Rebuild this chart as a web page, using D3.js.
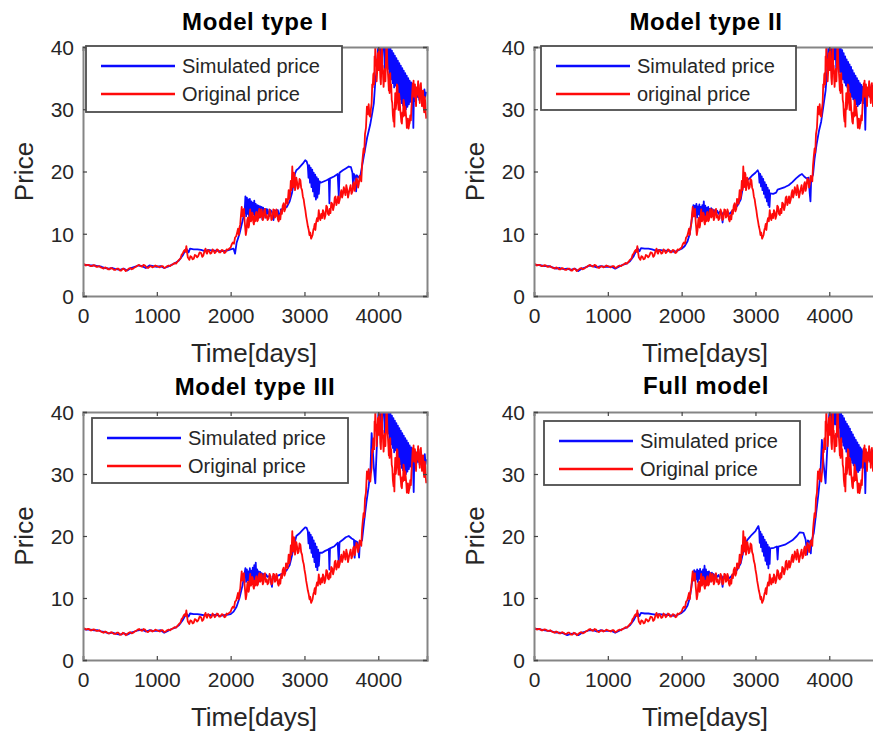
<!DOCTYPE html>
<html><head><meta charset="utf-8">
<script src="https://cdn.jsdelivr.net/npm/d3@7"></script>
<style>html,body{margin:0;padding:0;background:#fff;overflow:hidden}svg{display:block}</style>
</head><body>
<svg id="chart" width="873" height="737"></svg>
<script>
// ---------------- DATA ----------------
const panelTitles = ["Model type I", "Model type II", "Model type III", "Full model"];
const legendSim = ["Simulated price", "Simulated price", "Simulated price", "Simulated price"];
const legendOrig = ["Original price", "original price", "Original price", "Original price"];
const xTicks = [0, 1000, 2000, 3000, 4000];
const yTicks = [0, 10, 20, 30, 40];
const xDomain = [0, 4660];
const yDomain = [0, 40];
const xLabel = "Time[days]";
const yLabel = "Price";

// original price [day, price]
const originalPrice = [[0,5.0],[20,5.1],[40,4.9],[60,5.0],[80,5.0],[100,4.8],[120,4.8],[140,4.95],[160,4.9],[180,4.7],[200,4.7],[220,4.8],[240,4.6],[260,4.5],[280,4.4],[300,4.6],[320,4.5],[340,4.3],[360,4.3],[380,4.5],[400,4.4],[420,4.2],[440,4.2],[460,4.4],[480,4.4],[500,4.1],[520,4.1],[540,4.4],[560,4.3],[580,4.0],[600,4.2],[620,4.4],[640,4.5],[660,4.3],[680,4.4],[700,4.6],[720,4.7],[740,4.9],[760,5.0],[780,4.8],[800,4.7],[820,5.0],[840,4.9],[860,4.6],[880,4.5],[900,4.7],[920,4.8],[940,4.6],[960,4.7],[980,4.9],[1000,4.8],[1020,4.7],[1040,4.6],[1060,4.8],[1080,4.8],[1100,4.5],[1120,4.6],[1140,4.8],[1160,4.9],[1180,4.8],[1200,5.0],[1220,5.1],[1240,5.3],[1260,5.2],[1280,5.5],[1300,5.8],[1320,6.0],[1335,6.6],[1350,6.8],[1365,7.2],[1380,7.4],[1390,7.1],[1400,8.0],[1410,7.0],[1420,6.2],[1430,6.0],[1440,5.8],[1455,6.4],[1470,6.3],[1485,5.9],[1500,6.0],[1515,6.6],[1530,6.5],[1545,6.2],[1560,6.4],[1580,7.0],[1600,6.9],[1615,6.3],[1630,6.5],[1645,7.2],[1660,7.6],[1670,7.0],[1680,6.8],[1695,7.4],[1710,7.2],[1725,6.8],[1740,6.9],[1755,7.5],[1770,7.3],[1785,6.9],[1800,7.1],[1815,7.5],[1830,7.4],[1845,7.0],[1860,7.0],[1880,7.4],[1900,7.3],[1915,6.9],[1930,7.0],[1945,7.5],[1960,7.4],[1980,7.6],[2000,7.8],[2015,8.3],[2030,8.6],[2045,8.4],[2060,9.4],[2075,9.6],[2090,10.3],[2100,10.8],[2110,9.8],[2120,11.0],[2130,11.5],[2140,13.0],[2150,14.3],[2160,12.8],[2170,13.8],[2180,14.0],[2190,12.0],[2197,11.0],[2205,9.8],[2215,10.5],[2225,12.2],[2235,12.6],[2243,11.0],[2250,11.4],[2258,13.0],[2265,13.9],[2275,12.0],[2285,12.3],[2292,13.4],[2300,13.2],[2308,11.8],[2315,11.5],[2325,12.8],[2333,12.0],[2342,13.3],[2350,13.5],[2360,12.0],[2370,12.2],[2380,13.6],[2390,14.0],[2400,12.6],[2410,12.8],[2418,13.9],[2424,13.6],[2435,12.2],[2445,12.5],[2455,13.8],[2465,14.0],[2477,12.6],[2490,13.0],[2500,12.2],[2515,12.5],[2527,13.9],[2540,13.5],[2552,12.2],[2565,12.4],[2578,13.9],[2590,13.8],[2600,12.6],[2610,12.8],[2620,13.9],[2628,13.6],[2640,12.3],[2650,12.0],[2662,13.0],[2673,12.3],[2685,13.8],[2695,13.2],[2705,14.5],[2718,14.9],[2728,13.6],[2740,14.0],[2750,15.6],[2760,15.5],[2772,14.8],[2786,17.0],[2795,15.6],[2805,16.2],[2815,18.5],[2825,17.0],[2835,20.8],[2843,18.6],[2850,17.5],[2858,19.8],[2865,19.5],[2872,17.0],[2880,17.8],[2890,19.0],[2900,18.3],[2910,17.2],[2922,17.5],[2933,18.8],[2945,18.6],[2955,17.4],[2967,17.0],[2978,16.0],[2990,15.5],[3000,14.6],[3012,13.8],[3023,12.8],[3035,12.0],[3046,11.2],[3058,10.6],[3068,9.8],[3078,10.2],[3090,9.2],[3100,9.5],[3110,9.8],[3120,10.6],[3130,11.0],[3140,11.6],[3148,10.6],[3158,11.8],[3170,12.5],[3182,12.0],[3194,13.8],[3204,12.6],[3215,12.2],[3227,13.2],[3239,12.5],[3250,13.8],[3260,13.5],[3272,12.4],[3285,13.0],[3296,14.5],[3307,14.3],[3318,13.2],[3330,13.0],[3341,14.0],[3352,13.3],[3363,15.0],[3375,14.8],[3388,13.8],[3400,14.5],[3410,15.8],[3420,16.0],[3432,14.6],[3445,15.2],[3455,16.0],[3465,14.9],[3478,15.5],[3490,16.5],[3500,17.0],[3510,15.8],[3522,16.4],[3533,17.5],[3545,16.8],[3555,16.2],[3567,17.8],[3580,17.0],[3590,15.8],[3601,16.5],[3613,17.2],[3625,17.8],[3637,16.4],[3650,16.8],[3660,18.0],[3669,18.3],[3680,16.9],[3690,17.5],[3703,18.9],[3715,18.6],[3727,17.4],[3737,18.0],[3748,19.3],[3760,19.0],[3770,18.4],[3780,21.0],[3790,22.4],[3801,23.7],[3810,23.0],[3820,26.0],[3833,27.0],[3846,30.4],[3858,29.2],[3870,30.8],[3880,29.0],[3892,28.8],[3900,30.0],[3910,31.0],[3918,34.0],[3925,33.5],[3932,35.5],[3937,35.8],[3945,34.0],[3950,38.5],[3955,37.0],[3960,40.5],[3966,37.5],[3972,38.0],[3978,34.5],[3985,36.0],[3995,39.0],[4004,36.3],[4012,41.0],[4020,38.0],[4028,35.0],[4035,34.0],[4042,37.0],[4049,40.5],[4055,36.0],[4060,37.0],[4066,35.0],[4072,33.6],[4080,35.5],[4090,36.5],[4097,34.5],[4105,38.0],[4111,41.0],[4117,39.7],[4124,37.0],[4130,36.0],[4137,34.5],[4143,33.0],[4148,35.5],[4153,32.6],[4158,34.0],[4162,35.8],[4168,33.0],[4175,34.0],[4182,31.5],[4190,31.0],[4198,29.0],[4207,28.0],[4212,30.0],[4218,27.2],[4224,30.5],[4230,32.6],[4237,30.0],[4245,31.0],[4252,34.0],[4260,33.8],[4267,31.5],[4275,29.9],[4282,32.5],[4290,31.5],[4297,30.0],[4305,29.0],[4312,28.0],[4320,27.7],[4327,29.5],[4335,28.8],[4342,31.5],[4350,31.0],[4357,29.0],[4365,30.4],[4372,29.5],[4380,28.5],[4387,27.0],[4395,27.5],[4402,28.5],[4410,26.9],[4418,27.5],[4425,27.8],[4433,29.0],[4442,28.2],[4448,30.0],[4455,31.5],[4462,33.0],[4468,34.2],[4473,33.0],[4478,34.6],[4484,32.0],[4490,33.0],[4497,34.0],[4505,31.8],[4512,30.5],[4518,33.5],[4524,32.3],[4532,33.0],[4540,34.5],[4547,32.0],[4555,33.0],[4562,31.0],[4569,33.9],[4577,34.2],[4585,32.5],[4592,30.5],[4600,31.0],[4607,33.0],[4614,30.4],[4622,29.5],[4630,32.0],[4637,31.0],[4643,29.5],[4650,28.5]];

// simulated price, model type I
const simModelI = [[0,5.0],[50,5.0],[100,4.9],[150,4.9],[200,4.8],[250,4.7],[300,4.5],[350,4.4],[400,4.5],[450,4.3],[500,4.2],[550,4.4],[600,4.1],[650,4.5],[700,4.7],[750,4.9],[800,4.8],[850,4.5],[900,4.9],[950,4.8],[1000,4.7],[1050,4.8],[1100,4.5],[1150,4.7],[1200,5.0],[1250,5.3],[1300,5.7],[1350,6.5],[1400,7.6],[1430,7.0],[1450,7.6],[1500,7.5],[1550,7.5],[1600,7.4],[1650,7.2],[1700,7.4],[1750,7.3],[1800,7.3],[1850,7.2],[1900,7.2],[1950,7.3],[2000,7.5],[2040,7.6],[2060,6.8],[2080,8.5],[2120,10.0],[2160,12.0],[2190,13.5],[2200,16.0],[2210,12.8],[2220,15.8],[2230,13.2],[2240,15.5],[2250,12.6],[2260,15.6],[2270,13.0],[2280,15.2],[2290,12.5],[2300,15.0],[2310,13.1],[2320,15.3],[2330,12.7],[2340,14.8],[2350,12.4],[2360,14.6],[2370,13.0],[2380,14.5],[2390,12.6],[2400,14.4],[2410,12.9],[2420,14.3],[2430,12.3],[2440,14.2],[2450,13.0],[2460,14.0],[2470,12.6],[2480,14.0],[2490,13.2],[2500,13.9],[2520,12.8],[2540,13.8],[2560,13.5],[2580,12.2],[2600,13.7],[2640,13.8],[2660,12.3],[2680,13.9],[2720,14.0],[2760,14.3],[2800,15.2],[2830,16.5],[2850,17.8],[2870,19.6],[2890,20.2],[2920,20.5],[2950,20.9],[2980,21.3],[3010,21.8],[3030,21.6],[3045,21.0],[3055,19.0],[3065,21.0],[3075,18.2],[3085,20.6],[3095,17.5],[3105,20.3],[3115,16.8],[3125,19.8],[3135,16.0],[3145,19.5],[3155,15.5],[3165,19.1],[3175,15.8],[3185,18.8],[3195,16.4],[3205,18.4],[3220,18.2],[3260,18.4],[3300,18.6],[3330,18.8],[3338,14.9],[3346,18.9],[3400,19.2],[3450,19.6],[3465,16.0],[3475,19.8],[3520,20.2],[3560,20.5],[3600,20.8],[3630,20.7],[3650,19.8],[3660,17.5],[3670,19.6],[3690,19.2],[3700,16.8],[3710,19.4],[3740,19.0],[3760,19.5],[3790,21.5],[3820,23.5],[3850,25.5],[3890,27.5],[3920,29.5],[3940,31.0],[3960,34.5],[3980,36.5],[4000,40.5],[4020,38.0],[4030,41.0],[4045,36.0],[4060,41.0],[4080,39.5],[4090,35.5],[4100,41.0],[4115,37.0],[4125,40.5],[4135,36.5],[4145,40.2],[4155,35.2],[4165,39.8],[4175,34.8],[4185,39.4],[4195,34.2],[4205,39.0],[4215,33.5],[4225,38.6],[4235,33.8],[4245,38.2],[4255,33.0],[4265,37.8],[4275,32.2],[4285,37.4],[4295,31.6],[4305,37.0],[4315,31.0],[4325,36.6],[4335,30.6],[4345,36.2],[4355,30.2],[4365,35.8],[4375,30.0],[4385,35.4],[4395,30.4],[4405,35.0],[4415,30.8],[4425,34.6],[4435,31.2],[4445,34.3],[4455,31.5],[4465,34.0],[4475,27.0],[4485,33.7],[4495,31.3],[4505,33.5],[4515,31.8],[4525,33.3],[4535,32.0],[4545,33.1],[4555,31.5],[4565,33.0],[4575,32.2],[4585,33.0],[4595,31.8],[4605,32.8],[4615,32.2],[4625,33.2],[4635,32.0],[4650,32.8]];

// simulated price, model type II
const simModelII = [[0,5.0],[50,5.0],[100,4.9],[150,4.8],[200,4.8],[250,4.6],[300,4.4],[350,4.5],[400,4.3],[450,4.4],[500,4.2],[550,4.4],[600,4.0],[650,4.4],[700,4.6],[750,4.9],[800,4.8],[850,4.6],[900,4.8],[950,4.7],[1000,4.7],[1050,4.7],[1100,4.4],[1150,4.7],[1200,5.0],[1250,5.2],[1300,5.6],[1350,6.4],[1400,7.7],[1430,7.2],[1450,7.7],[1500,7.6],[1550,7.6],[1600,7.5],[1650,7.3],[1700,7.4],[1750,7.3],[1800,7.3],[1850,7.2],[1900,7.1],[1950,7.3],[2000,7.6],[2040,8.0],[2080,8.8],[2110,10.0],[2140,12.5],[2160,14.6],[2170,12.8],[2180,14.5],[2190,13.0],[2200,14.8],[2210,12.6],[2220,14.4],[2230,13.1],[2240,14.7],[2250,12.8],[2260,14.3],[2270,13.0],[2280,14.6],[2290,12.7],[2300,15.2],[2310,13.0],[2320,14.5],[2330,12.8],[2340,14.2],[2350,13.1],[2360,14.3],[2370,12.6],[2380,14.0],[2390,13.0],[2400,14.1],[2410,12.9],[2420,13.9],[2430,13.2],[2440,13.8],[2460,13.4],[2480,13.7],[2500,13.2],[2520,13.6],[2540,13.3],[2555,11.8],[2565,13.4],[2590,13.2],[2620,13.5],[2650,13.2],[2680,13.6],[2720,14.0],[2760,14.6],[2800,15.5],[2830,17.5],[2850,18.3],[2880,18.5],[2920,18.9],[2960,19.4],[3000,19.8],[3030,20.2],[3045,19.8],[3055,18.2],[3065,19.6],[3075,17.6],[3085,19.2],[3095,17.0],[3105,18.8],[3115,16.4],[3125,18.3],[3135,15.8],[3145,17.9],[3155,15.2],[3165,17.4],[3175,14.6],[3185,17.0],[3190,14.3],[3200,16.5],[3240,16.4],[3280,16.6],[3300,17.1],[3350,17.3],[3400,17.5],[3450,17.8],[3500,18.3],[3550,18.9],[3600,19.4],[3630,19.6],[3660,19.2],[3690,18.9],[3720,19.0],[3735,16.5],[3745,15.2],[3755,18.8],[3780,19.5],[3800,22.0],[3830,24.5],[3860,26.5],[3890,28.0],[3920,30.5],[3950,33.0],[3970,36.0],[3990,40.5],[4010,37.5],[4025,41.0],[4040,36.5],[4055,41.0],[4070,38.0],[4085,41.0],[4095,36.0],[4110,40.5],[4125,37.5],[4135,40.5],[4145,36.0],[4155,40.0],[4165,35.2],[4175,39.5],[4185,34.8],[4195,39.0],[4205,34.3],[4215,38.5],[4225,33.8],[4235,38.0],[4245,33.5],[4255,37.6],[4265,33.0],[4275,37.2],[4285,32.5],[4295,36.8],[4305,32.0],[4315,36.3],[4325,31.6],[4335,35.8],[4345,31.2],[4355,35.4],[4365,30.8],[4375,35.0],[4385,30.5],[4395,34.6],[4405,30.8],[4415,34.2],[4425,31.0],[4435,33.9],[4445,31.4],[4455,33.6],[4465,31.0],[4475,33.4],[4488,26.7],[4500,33.2],[4515,31.8],[4530,33.0],[4545,32.2],[4560,33.5],[4575,32.0],[4590,33.8],[4605,32.5],[4620,34.0],[4650,33.5]];

// simulated price, model type III
const simModelIII = [[0,5.0],[50,4.9],[100,4.9],[150,4.8],[200,4.8],[250,4.6],[300,4.5],[350,4.3],[400,4.4],[450,4.2],[500,4.1],[550,4.3],[600,4.1],[650,4.4],[700,4.6],[750,4.8],[800,4.9],[850,4.6],[900,4.8],[950,4.7],[1000,4.7],[1050,4.8],[1100,4.4],[1150,4.7],[1200,5.0],[1250,5.2],[1300,5.6],[1350,6.4],[1400,7.5],[1430,7.0],[1450,7.5],[1500,7.4],[1550,7.4],[1600,7.3],[1650,7.2],[1700,7.3],[1750,7.2],[1800,7.3],[1850,7.1],[1900,7.2],[1950,7.3],[2000,7.4],[2040,7.8],[2080,8.6],[2120,10.0],[2160,12.0],[2190,14.0],[2200,14.8],[2210,12.6],[2220,14.6],[2230,12.9],[2240,14.3],[2250,12.5],[2260,14.8],[2270,13.0],[2280,14.4],[2290,12.7],[2300,14.9],[2310,12.9],[2320,15.3],[2330,13.0],[2340,15.7],[2350,12.8],[2360,14.6],[2370,13.1],[2380,14.3],[2390,12.7],[2400,14.2],[2410,13.0],[2420,14.0],[2430,12.8],[2440,13.9],[2460,13.2],[2480,13.8],[2500,13.4],[2530,13.6],[2560,11.8],[2570,13.5],[2600,13.3],[2640,13.6],[2680,13.8],[2720,14.0],[2760,14.5],[2800,15.3],[2830,16.8],[2860,18.5],[2890,20.0],[2930,20.4],[2970,20.9],[3010,21.4],[3030,21.3],[3045,20.8],[3055,18.8],[3065,20.6],[3075,18.0],[3085,20.2],[3095,17.3],[3105,19.8],[3115,16.6],[3125,19.3],[3135,15.8],[3145,18.8],[3155,15.0],[3165,18.3],[3175,14.5],[3185,17.8],[3195,15.2],[3205,17.3],[3240,17.3],[3280,17.6],[3320,17.8],[3330,17.9],[3338,14.6],[3346,18.0],[3400,18.3],[3450,18.9],[3465,15.6],[3475,19.0],[3520,19.4],[3560,19.8],[3600,20.0],[3640,19.6],[3670,19.4],[3680,16.5],[3690,19.2],[3720,19.0],[3740,16.5],[3750,18.8],[3780,19.3],[3810,22.5],[3840,25.5],[3870,28.0],[3895,31.0],[3910,36.6],[3925,34.0],[3940,31.0],[3960,28.5],[3975,33.0],[3990,37.0],[4005,40.5],[4020,38.0],[4030,41.0],[4045,36.0],[4060,41.0],[4080,39.5],[4090,35.5],[4100,41.0],[4115,37.0],[4125,40.5],[4135,36.5],[4145,40.2],[4155,35.2],[4165,39.8],[4175,34.8],[4185,39.4],[4195,34.2],[4205,39.0],[4215,33.5],[4225,38.6],[4235,33.8],[4245,38.2],[4255,33.0],[4265,37.8],[4275,32.2],[4285,37.4],[4295,31.6],[4305,37.0],[4315,31.0],[4325,36.6],[4335,30.6],[4345,36.2],[4355,30.2],[4365,35.8],[4375,30.0],[4385,35.4],[4395,30.4],[4405,35.0],[4415,30.8],[4425,34.6],[4435,31.2],[4445,34.3],[4455,31.5],[4465,34.0],[4480,27.1],[4490,33.7],[4500,31.3],[4510,33.5],[4520,31.8],[4530,33.3],[4540,32.0],[4550,33.1],[4560,31.5],[4570,33.0],[4580,32.2],[4590,33.0],[4600,31.8],[4610,32.8],[4620,32.2],[4630,33.2],[4640,31.6],[4650,32.4]];

// simulated price, full model
const simFull = [[0,5.0],[50,5.0],[100,4.9],[150,4.8],[200,4.7],[250,4.6],[300,4.4],[350,4.4],[400,4.3],[450,4.0],[500,4.2],[550,4.3],[600,4.0],[650,4.4],[700,4.6],[750,4.8],[800,4.8],[850,4.6],[900,4.8],[950,4.7],[1000,4.7],[1050,4.7],[1100,4.4],[1150,4.7],[1200,5.0],[1250,5.2],[1300,5.6],[1350,6.4],[1400,7.6],[1430,7.1],[1450,7.6],[1500,7.5],[1550,7.5],[1600,7.4],[1650,7.3],[1700,7.4],[1750,7.3],[1800,7.3],[1850,7.2],[1900,7.1],[1950,7.3],[2000,7.6],[2040,8.0],[2080,8.8],[2110,10.0],[2140,12.5],[2170,14.5],[2180,12.8],[2190,14.3],[2200,13.0],[2210,14.6],[2220,12.6],[2230,14.4],[2240,13.1],[2250,14.7],[2260,12.8],[2270,14.3],[2280,13.0],[2290,14.6],[2300,12.7],[2310,15.2],[2320,13.0],[2330,14.6],[2340,12.8],[2350,14.2],[2360,13.1],[2370,14.3],[2380,12.6],[2390,14.0],[2400,13.0],[2410,14.1],[2420,12.9],[2430,13.9],[2440,13.2],[2460,13.8],[2480,13.4],[2500,13.7],[2520,13.2],[2540,13.6],[2555,11.8],[2565,13.4],[2590,13.2],[2620,13.5],[2650,13.2],[2680,13.6],[2720,14.0],[2760,14.7],[2800,15.6],[2830,17.2],[2870,19.0],[2900,19.5],[2950,20.2],[3000,20.8],[3040,21.6],[3050,21.0],[3058,18.9],[3066,20.7],[3075,18.2],[3085,20.3],[3095,17.5],[3105,19.9],[3115,16.8],[3125,19.4],[3135,16.0],[3145,19.0],[3155,15.4],[3165,18.6],[3175,14.8],[3185,18.2],[3192,15.5],[3200,18.0],[3250,18.1],[3290,18.3],[3300,16.2],[3310,18.3],[3400,18.6],[3500,19.3],[3560,20.0],[3600,20.6],[3650,20.5],[3680,19.4],[3700,17.0],[3710,19.3],[3740,19.0],[3750,17.2],[3760,19.2],[3790,20.5],[3820,23.5],[3850,26.5],[3880,30.0],[3900,35.5],[3920,32.0],[3950,28.5],[3970,33.5],[3990,38.0],[4005,40.5],[4020,37.5],[4035,41.0],[4050,36.5],[4065,41.0],[4080,38.0],[4095,41.0],[4105,36.0],[4120,40.5],[4130,37.5],[4140,40.2],[4150,35.8],[4160,39.8],[4170,35.2],[4180,39.4],[4190,34.6],[4200,39.0],[4210,34.1],[4220,38.5],[4230,33.6],[4240,38.1],[4250,33.2],[4260,37.7],[4270,32.8],[4280,37.3],[4290,32.3],[4300,36.8],[4310,31.8],[4320,36.4],[4330,31.4],[4340,35.9],[4350,31.0],[4360,35.5],[4370,30.6],[4380,35.1],[4390,30.3],[4400,34.7],[4410,30.6],[4420,34.3],[4430,31.0],[4440,34.0],[4450,31.3],[4460,33.7],[4470,31.0],[4478,33.5],[4488,26.9],[4500,33.2],[4515,31.8],[4530,33.0],[4545,32.2],[4560,33.5],[4575,32.0],[4590,33.8],[4605,32.5],[4620,34.0],[4650,33.5]];

const simulatedSeries = [simModelI, simModelII, simModelIII, simFull];

// ---------------- LAYOUT ----------------
const layout = [
  {left: 83,  top: 47,  width: 344, height: 249, titleY: 30, legend: {x: 86,  y: 46,  w: 256, h: 66}},
  {left: 534, top: 47,  width: 344, height: 249, titleY: 30, legend: {x: 541, y: 46,  w: 255, h: 64}},
  {left: 83,  top: 412, width: 344, height: 248, titleY: 395, legend: {x: 92,  y: 418, w: 256, h: 65}},
  {left: 534, top: 412, width: 344, height: 248, titleY: 394, legend: {x: 544, y: 421, w: 256, h: 64}}
];

const FONT = "'Liberation Sans', Arial, Helvetica, sans-serif";
const svg = d3.select("#chart");
const axisColor = "#858585";
const textColor = "#262626";
const blue = "#0a0aff";
const red = "#ff0a0a";

layout.forEach((L, i) => {
  const x = d3.scaleLinear().domain(xDomain).range([L.left, L.left + L.width]);
  const y = d3.scaleLinear().domain(yDomain).range([L.top + L.height, L.top]);
  const g = svg.append("g");

  const clipId = "clip" + i;
  svg.append("clipPath").attr("id", clipId).append("rect")
    .attr("x", L.left).attr("y", L.top).attr("width", L.width).attr("height", L.height);

  const line = d3.line().x(d => x(d[0])).y(d => y(d[1]));
  const plot = g.append("g").attr("clip-path", `url(#${clipId})`);
  plot.append("path").datum(simulatedSeries[i]).attr("d", line)
    .attr("fill", "none").attr("stroke", blue).attr("stroke-width", 1.8).attr("stroke-linejoin", "round");
  plot.append("path").datum(originalPrice).attr("d", line)
    .attr("fill", "none").attr("stroke", red).attr("stroke-width", 1.8).attr("stroke-linejoin", "round");

  // axes (ticks inward)
  const bottom = g.append("g").attr("transform", `translate(0,${L.top + L.height})`)
    .call(d3.axisBottom(x).tickValues(xTicks).tickSize(-4).tickPadding(12).tickFormat(d3.format("d")));
  const topAx = g.append("g").attr("transform", `translate(0,${L.top})`)
    .call(d3.axisTop(x).tickValues(xTicks).tickSize(-4).tickFormat(""));
  const leftAx = g.append("g").attr("transform", `translate(${L.left},0)`)
    .call(d3.axisLeft(y).tickValues(yTicks).tickSize(-4).tickPadding(9));
  const rightAx = g.append("g").attr("transform", `translate(${L.left + L.width},0)`)
    .call(d3.axisRight(y).tickValues(yTicks).tickSize(-4).tickFormat(""));
  [bottom, topAx, leftAx, rightAx].forEach(a => {
    a.select(".domain").attr("stroke", axisColor).attr("stroke-width", 2);
    a.selectAll(".tick line").attr("stroke", "#444").attr("stroke-width", 1.2);
    a.selectAll("text").attr("fill", textColor).style("font-family", FONT).style("font-size", "21px");
  });
  bottom.selectAll("text").attr("dy", "0.71em");
  leftAx.selectAll("text").attr("dy", "0.35em");

  // title
  g.append("text").attr("x", L.left + L.width / 2).attr("y", L.titleY)
    .attr("text-anchor", "middle").style("font-family", FONT).style("font-size", "24px")
    .style("font-weight", "bold").style("letter-spacing", "0.6px").attr("fill", "#000").text(panelTitles[i]);

  // axis labels
  g.append("text").attr("x", L.left + L.width / 2 - 1).attr("y", L.top + L.height + 66)
    .attr("text-anchor", "middle").style("font-family", FONT).style("font-size", "26px")
    .attr("fill", textColor).text(xLabel);
  g.append("text").attr("transform", `translate(${L.left - 50},${L.top + L.height / 2}) rotate(-90)`)
    .attr("text-anchor", "middle").style("font-family", FONT).style("font-size", "26px")
    .attr("fill", textColor).text(yLabel);

  // legend
  const lg = L.legend;
  g.append("rect").attr("x", lg.x).attr("y", lg.y).attr("width", lg.w).attr("height", lg.h)
    .attr("fill", "#fff").attr("stroke", "#4d4d4d").attr("stroke-width", 1.8);
  const items = [{label: legendSim[i], color: blue}, {label: legendOrig[i], color: red}];
  items.forEach((it, k) => {
    const cy = lg.y + 20 + k * 28;
    g.append("line").attr("x1", lg.x + 15).attr("x2", lg.x + 89).attr("y1", cy).attr("y2", cy)
      .attr("stroke", it.color).attr("stroke-width", 2.4);
    g.append("text").attr("x", lg.x + 96).attr("y", cy + 7).style("font-family", FONT)
      .style("font-size", "20px").attr("fill", textColor).text(it.label);
  });
});
</script>
</body></html>
